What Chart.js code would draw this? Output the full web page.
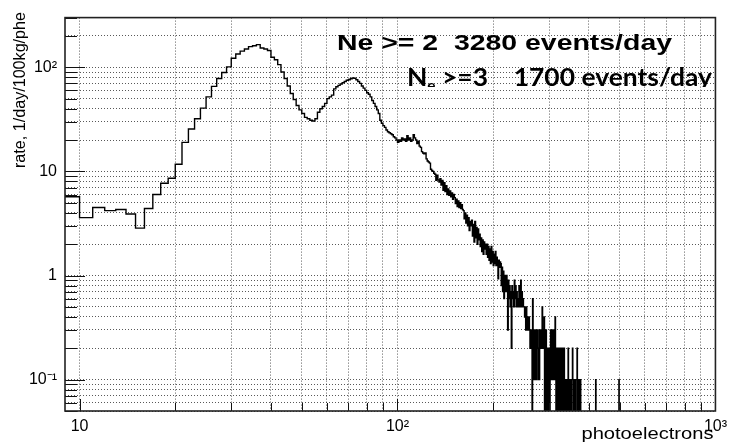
<!DOCTYPE html>
<html>
<head>
<meta charset="utf-8">
<script src="https://cdn.jsdelivr.net/npm/chart.js@4.4.0/dist/chart.umd.min.js"></script>
<style>
  html, body { margin: 0; padding: 0; background: #fff; }
  canvas { display: block; }
</style>
</head>
<body>
<canvas id="spectrum" width="733" height="446"></canvas>
<script>
// 1 phe wide bins, first one starts at 9 phe
var firstBin = 9;
var binWidth = 1;

// rate, 1/day/100kg/phe  -- bins 9..36 (rise to first peak)
var rateRise = [5.7, 3.6, 4.5, 4.2, 4.3, 3.9, 2.85, 4.4, 6.0, 7.7, 8.6, 11.7, 19, 25.5,
                32, 40.5, 52, 65.5, 78, 89, 101, 122, 134, 143, 150, 158, 161, 165];

// bins 37..84 (fall, valley, second peak)
var rateValley = [153, 150, 145, 125, 118, 106, 90, 78, 66, 56, 49, 43, 39, 36, 33, 32,
                  31, 30.5, 32, 37, 40, 42, 45, 50, 52, 54, 62, 65, 67, 69, 71, 73,
                  75, 76, 77.5, 79, 78.5, 76, 73, 70, 66, 63, 60, 57, 55, 52, 48, 45];

// bins 85..150 (shoulder around 100 phe)
var rateShoulder = [42, 39, 36, 31, 29, 27.5, 26.5, 25, 24, 23.5, 23, 22.5, 21.5, 21, 20,
                    19, 20, 19.5, 21, 20, 20.5, 19.5, 22, 20, 21, 19.5, 20, 22.5, 21, 20,
                    18.5, 19.5, 17.5, 17, 15.5, 15, 14.8, 15, 13.2, 12.6, 12.3, 12, 10.5, 10.2,
                    10, 9.6, 9.4, 8.2, 9.2, 8.3, 7.9, 8.5, 7.4, 8.2, 6.6, 7.8, 6.4, 7.3,
                    6.0, 6.8, 5.9, 6.5, 5.7, 6.2, 5.4, 6.0];

// bins 151..380 (tail, low statistics)
var rateTail = [
  5.6, 4.9, 5.4, 4.6, 5.2, 4.5, 5.0, 4.4, 4.8, 4.3,
  4.2, 3.5, 4.0, 3.2, 3.8, 3.0, 3.6, 2.7, 3.3, 3.0,
  3.4, 2.4, 3.1, 2.1, 3.3, 2.3, 2.9, 2.0, 2.8, 2.2,
  2.5, 1.9, 2.3, 1.7, 2.2, 1.6, 2.1, 1.8, 2.0, 1.6,
  2.0, 1.5, 1.9, 1.4, 1.8, 1.3, 1.9, 1.35, 1.7, 1.25,
  1.6, 1.3, 1.7, 1.25, 1.5, 1.3, 0.93, 1.4, 1.2, 1.35,
  1.3, 0.8, 1.2, 0.7, 1.1, 0.6, 1.0, 0.9, 0.7, 1.0,
  0.8, 0.3, 0.9, 0.6, 0.8, 0.5, 0.7, 0.2, 0.8, 0.6,
  0.7, 0.5, 0.9, 0.6, 0.8, 0.5, 0.7, 0.5, 0.6, 0.5,
  0.8, 0.5, 0.6, 0.9, 0.5, 0.7, 0.5, 0.6, 0.5, 0.5,
  0.4, 0.5, 0.3, 0.5, 0.3, 0.4, 0.3, 0.3, 0.4, 0.3,
  0.2, 0.3, 0.2, 0.3, 0, 0.6, 0.1, 0.3, 0.2, 0.1,
  0.3, 0.2, 0.1, 0.3, 0.2, 0.3, 0.1, 0.2, 0.1, 0.3,
  0.2, 0.3, 0.2, 0.3, 0.5, 0.2, 0.3, 0.2, 0.4, 0,
  0.2, 0, 0.3, 0, 0.2, 0, 0.1, 0, 0.2, 0.1,
  0, 0.2, 0.3, 0.1, 0.3, 0.2, 0.1, 0.3, 0.2, 0.3,
  0.1, 0.3, 0.4, 0.2, 0, 0.2, 0, 0.2, 0.1, 0,
  0.2, 0, 0.2, 0, 0.1, 0.2, 0, 0.1, 0, 0.2,
  0.1, 0, 0.1, 0.2, 0.1, 0, 0.1, 0.1, 0, 0.1,
  0.1, 0, 0.1, 0.2, 0.1, 0, 0.1, 0.1, 0, 0.1,
  0.1, 0, 0.1, 0.1, 0.2, 0.1, 0, 0.1, 0.1, 0,
  0.1, 0.1, 0, 0.1, 0.1, 0.1, 0.2, 0, 0.1, 0.1,
  0.1, 0, 0.1, 0.1, 0, 0.1, 0, 0, 0, 0
];

// bins 381..500 (single counts only)
var rateFar = [
  0, 0, 0, 0, 0, 0, 0, 0, 0, 0,
  0, 0, 0, 0, 0, 0, 0, 0, 0, 0,
  0, 0, 0, 0, 0, 0, 0, 0, 0, 0,
  0, 0, 0, 0, 0, 0, 0, 0, 0, 0.1,
  0, 0, 0, 0, 0, 0, 0, 0, 0, 0,
  0, 0, 0, 0, 0, 0, 0, 0, 0, 0,
  0, 0, 0, 0, 0, 0, 0, 0, 0, 0,
  0, 0, 0, 0, 0, 0, 0, 0, 0, 0,
  0, 0, 0, 0, 0, 0, 0, 0, 0, 0,
  0, 0, 0, 0, 0, 0, 0, 0, 0, 0,
  0, 0, 0, 0, 0, 0, 0, 0, 0, 0,
  0, 0, 0, 0, 0, 0, 0.1, 0, 0, 0
];

// axis ranges and labelled decades
var xRange = [9, 1000];
var yRange = [0.05, 300];
var xLabelValues = [10, 100, 1000];
var xLabelText = ['10', '10\u00b2', '10\u00b3'];
var yLabelValues = [0.1, 1, 10, 100];
var yLabelText = ['10\u207b\u00b9', '1', '10', '10\u00b2'];

var rates = rateRise.concat(rateValley, rateShoulder, rateTail, rateFar);

// empty bins go below the frame so the step line drops out of view
var belowAxis = 1e-3;
var steps = rates.map(function (r, i) {
  return { x: firstBin + i * binWidth, y: r > 0 ? r : belowAxis };
});
steps.push({ x: firstBin + rates.length * binWidth, y: belowAxis });

function isDecade(v) {
  var l = Math.log10(v);
  return Math.abs(l - Math.round(l)) < 1e-6;
}

// 1..9 x 10^n grid values inside [lo, hi]
function logGrid(lo, hi) {
  var out = [];
  for (var e = Math.floor(Math.log10(lo)); e <= Math.ceil(Math.log10(hi)); e++) {
    for (var m = 1; m <= 9; m++) {
      var v = parseFloat((m * Math.pow(10, e)).toPrecision(6));
      if (v >= lo * 0.9999 && v <= hi * 1.0001) out.push(v);
    }
  }
  return out;
}

function labelFor(values, texts, v) {
  for (var i = 0; i < values.length; i++) {
    if (Math.abs(Math.log10(v) - Math.log10(values[i])) < 1e-6) return texts[i];
  }
  return '';
}

function stretchedText(ctx, text, x, y, width, align) {
  var w = ctx.measureText(text).width;
  ctx.save();
  ctx.translate(x, y);
  ctx.scale(width / w, 1);
  ctx.textAlign = 'left';
  ctx.fillText(text, align === 'right' ? -w : 0, 0);
  ctx.restore();
}

// ROOT-like frame: inner ticks, box, axis titles and the rate notes
var frameDecor = {
  id: 'frameDecor',
  afterDraw: function (chart) {
    var ctx = chart.ctx;
    var a = chart.chartArea;
    var xs = chart.scales.x, ys = chart.scales.y;

    ctx.save();
    ctx.strokeStyle = '#111';
    ctx.lineWidth = 1;
    ys.ticks.forEach(function (t) {
      var py = Math.round(ys.getPixelForValue(t.value)) + 0.5;
      var len = isDecade(t.value) ? 20 : 12;
      ctx.beginPath();
      ctx.moveTo(a.left, py);
      ctx.lineTo(a.left + len, py);
      ctx.stroke();
    });
    xs.ticks.forEach(function (t) {
      var px = Math.round(xs.getPixelForValue(t.value)) + 0.5;
      var len = isDecade(t.value) ? 12 : 8;
      ctx.beginPath();
      ctx.moveTo(px, a.bottom);
      ctx.lineTo(px, a.bottom - len);
      ctx.stroke();
    });

    ctx.lineWidth = 1.6;
    ctx.strokeStyle = '#222';
    ctx.strokeRect(a.left, a.top, a.right - a.left, a.bottom - a.top);

    ctx.fillStyle = '#000';
    ctx.textBaseline = 'alphabetic';

    // x title, right aligned under the axis
    ctx.font = '16px "Liberation Sans", Arial, sans-serif';
    stretchedText(ctx, 'photoelectrons', a.right - 2, 438.5, 132, 'right');

    // y title, rotated, right aligned at the top
    ctx.save();
    ctx.translate(25, 12);
    ctx.rotate(-Math.PI / 2);
    ctx.font = '16px "Liberation Sans", Arial, sans-serif';
    stretchedText(ctx, 'rate, 1/day/100kg/phe', 0, 0, 156, 'right');
    ctx.restore();

    // first note
    ctx.font = 'bold 22px "Liberation Sans", Arial, sans-serif';
    stretchedText(ctx, 'Ne >= 2  3280 events/day', 337, 49.5, 335, 'left');

    // second note, N with subscript e; the bottom edge is cut
    ctx.save();
    ctx.beginPath();
    ctx.rect(0, 0, chart.width, 87);
    ctx.clip();
    var big = 'bold 24px Lato, "Open Sans", sans-serif';
    var small = 'bold 14px Lato, "Open Sans", sans-serif';
    var rest = ' >=3    1700 events/day';
    ctx.font = big;
    var wN = ctx.measureText('N').width;
    var wRest = ctx.measureText(rest).width;
    ctx.font = small;
    var wE = ctx.measureText('e').width;
    var s = 305 / (wN + wE + wRest);
    ctx.translate(407, 85.7);
    ctx.scale(s, 1);
    ctx.textAlign = 'left';
    ctx.font = big;
    ctx.fillText('N', 0, 0);
    ctx.font = small;
    ctx.fillText('e', wN, 4);
    ctx.font = big;
    ctx.fillText(rest, wN + wE, 0);
    ctx.restore();

    ctx.restore();
  }
};

Chart.defaults.font.family = '"Liberation Sans", Arial, sans-serif';
Chart.defaults.font.size = 16;
Chart.defaults.color = '#000';

var gridStyle = { color: 'rgba(0,0,0,0.65)', lineWidth: 1, drawTicks: false };
var dotted = { display: false, dash: [1, 2] };

new Chart(document.getElementById('spectrum').getContext('2d'), {
  type: 'line',
  data: {
    datasets: [{
      data: steps,
      stepped: 'before',
      borderColor: '#000',
      borderWidth: 1.4,
      pointRadius: 0,
      fill: false,
      tension: 0
    }]
  },
  options: {
    responsive: false,
    animation: false,
    devicePixelRatio: 1,
    layout: { padding: { top: 13, right: 13, bottom: 0, left: 0 } },
    plugins: {
      legend: { display: false },
      tooltip: { enabled: false }
    },
    scales: {
      x: {
        type: 'logarithmic',
        min: xRange[0],
        max: xRange[1],
        grid: gridStyle,
        border: dotted,
        afterBuildTicks: function (scale) {
          scale.ticks = logGrid(10, xRange[1]).map(function (v) { return { value: v }; });
        },
        afterFit: function (scale) { scale.height = 35; },
        ticks: {
          autoSkip: false,
          maxRotation: 0,
          minRotation: 0,
          padding: 6,
          callback: function (v) { return labelFor(xLabelValues, xLabelText, v); }
        }
      },
      y: {
        type: 'logarithmic',
        min: yRange[0],
        max: yRange[1],
        grid: gridStyle,
        border: dotted,
        afterBuildTicks: function (scale) {
          scale.ticks = logGrid(yRange[0], yRange[1]).map(function (v) { return { value: v }; });
        },
        afterFit: function (scale) { scale.width = 65; },
        ticks: {
          autoSkip: false,
          padding: 8,
          callback: function (v) { return labelFor(yLabelValues, yLabelText, v); }
        }
      }
    }
  },
  plugins: [frameDecor]
});
</script>
</body>
</html>
